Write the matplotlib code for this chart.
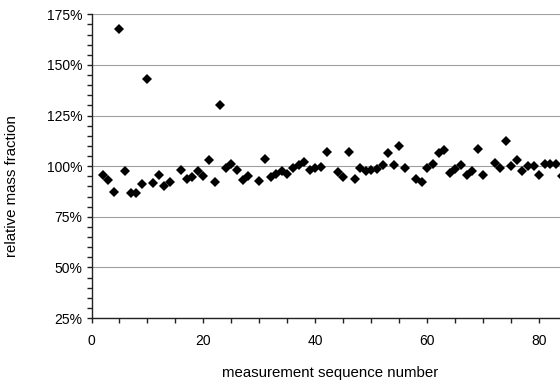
import numpy as np
import matplotlib
matplotlib.use('Agg')
import matplotlib.pyplot as plt
from matplotlib.ticker import MultipleLocator, FuncFormatter

# measurement sequence numbers and relative mass fraction (%)
seq = [2, 3, 4, 5, 6, 7, 8, 9, 10, 11, 12, 13, 14, 16, 17, 18, 19, 20,
       21, 22, 23, 24, 25, 26, 27, 28, 30, 31, 32, 33, 34, 35, 36, 37, 38,
       39, 40, 41, 42, 44, 45, 46, 47, 48, 49, 50, 51, 52, 53, 54, 55, 56,
       58, 59, 60, 61, 62, 63, 64, 65, 66, 67, 68, 69, 70, 72, 73, 74, 75,
       76, 77, 78, 79, 80, 81, 82, 83, 84]
frac = [95.8, 93.0, 87.4, 167.5, 97.5, 86.9, 86.9, 91.1, 142.8, 91.7, 95.8,
        90.3, 92.0, 97.9, 93.8, 94.7, 97.4, 95.0,
        103.0, 92.0, 130.0, 98.9, 100.9, 98.0, 93.4, 95.1, 92.8, 103.3,
        94.6, 96.2, 97.5, 96.1, 99.1, 100.8, 101.9,
        98.0, 99.2, 99.6, 107.1, 97.0, 94.8, 107.0, 93.8, 99.2, 97.6,
        98.1, 98.7, 100.8, 106.3, 100.8, 110.0, 99.1,
        93.8, 92.4, 99.0, 101.0, 106.5, 108.2, 96.4, 98.7, 100.8, 95.4,
        97.6, 108.6, 95.4, 101.4, 99.3, 112.3, 99.9,
        102.9, 97.6, 99.9, 99.9, 95.4, 101.1, 101.1, 101.3, 95.0]

plt.rcParams['font.family'] = ['Liberation Sans', 'DejaVu Sans']

fig = plt.figure(figsize=(5.6, 3.8), dpi=100)
# plot area runs off the right edge of the picture
ax = fig.add_axes([91.5 / 560, 1 - 318 / 380, 1 - 91.5 / 560, (318 - 14.3) / 380])

ax.plot(seq, frac, linestyle='none', marker='D', markersize=5.4,
        color='black', markeredgewidth=0)

ax.set_xlim(0, 83.7)
ax.set_ylim(25, 175)

ax.xaxis.set_major_locator(MultipleLocator(20))
ax.xaxis.set_minor_locator(MultipleLocator(5))
ax.yaxis.set_major_locator(MultipleLocator(25))
ax.yaxis.set_minor_locator(MultipleLocator(5))
ax.yaxis.set_major_formatter(FuncFormatter(lambda v, p: '{:.0f}%'.format(v)))

ax.grid(axis='y', which='major', color='#a0a0a0', linewidth=0.8)
ax.set_axisbelow(True)

for s in ['top', 'right']:
    ax.spines[s].set_visible(False)
for s in ['left', 'bottom']:
    ax.spines[s].set_color('#222222')
    ax.spines[s].set_linewidth(1.0)

ax.tick_params(which='both', direction='out', length=3.6, width=1.0,
               color='#222222', labelsize=10)
ax.tick_params(axis='x', pad=8)
ax.tick_params(axis='y', pad=3)

ax.set_xlabel('measurement sequence number', fontsize=10.8)
ax.set_ylabel('relative mass fraction', fontsize=10.8)
ax.xaxis.set_label_coords(0.509, -0.158)
ax.yaxis.set_label_coords(-0.155, 0.435)

fig.savefig('out.png', dpi=100)
